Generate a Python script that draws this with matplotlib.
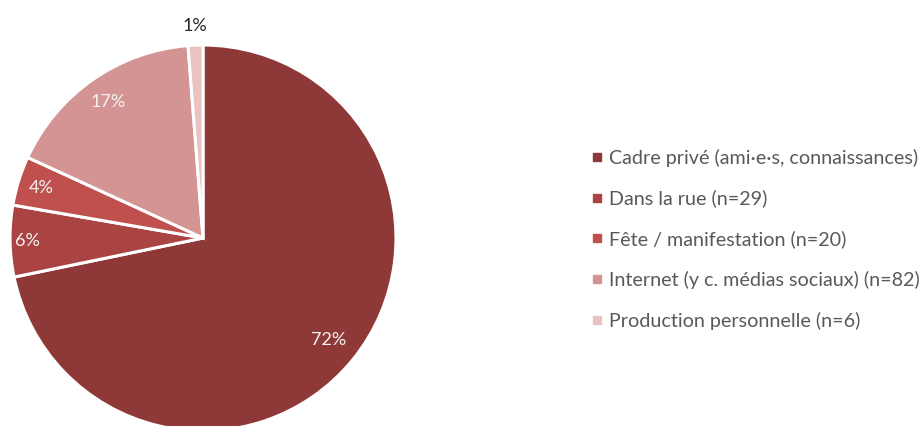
import matplotlib.pyplot as plt
import numpy as np
from matplotlib.lines import Line2D

plt.rcParams['font.family'] = ['Lato', 'DejaVu Sans']

labels = [
    "Cadre privé (ami·e·s, connaissances)",
    "Dans la rue (n=29)",
    "Fête / manifestation (n=20)",
    "Internet (y c. médias sociaux) (n=82)",
    "Production personnelle (n=6)",
]
counts = [348, 29, 20, 82, 6]
pct_labels = ["72%", "6%", "4%", "17%", "1%"]
colors = ["#8E3937", "#A94442", "#C0504D", "#D39493", "#E8C3C2"]
label_colors = ["#F2F2F2", "#F2F2F2", "#F2F2F2", "#F2F2F2", "#262626"]
label_dist = [0.84, 0.91, 0.88, 0.86, 1.10]

fig = plt.figure(figsize=(9.2, 4.26), dpi=100)
ax = fig.add_axes([0.01087, -0.0117, 0.4196, 0.906])
wedges, _ = ax.pie(counts, colors=colors, startangle=90, counterclock=False,
                   radius=1, wedgeprops=dict(edgecolor="white", linewidth=2.2))
ax.set_xlim(-1, 1)
ax.set_ylim(-1, 1)
ax.set_aspect("equal")
ax.axis("off")

for w, txt, d, c in zip(wedges, pct_labels, label_dist, label_colors):
    ang = np.deg2rad((w.theta1 + w.theta2) / 2)
    ax.text(d * np.cos(ang), d * np.sin(ang), txt, ha="center", va="center",
            fontsize=13, color=c)

handles = [Line2D([0], [0], marker="s", linestyle="", markersize=6,
                  markerfacecolor=c, markeredgecolor=c) for c in colors]
fig.legend(handles, labels, loc="center left", bbox_to_anchor=(0.635, 0.438),
           frameon=False, fontsize=14.2, labelcolor="#595959", handlelength=0.5,
           handletextpad=0.35, labelspacing=1.16, borderaxespad=0)

fig.savefig("out.png", dpi=100)
